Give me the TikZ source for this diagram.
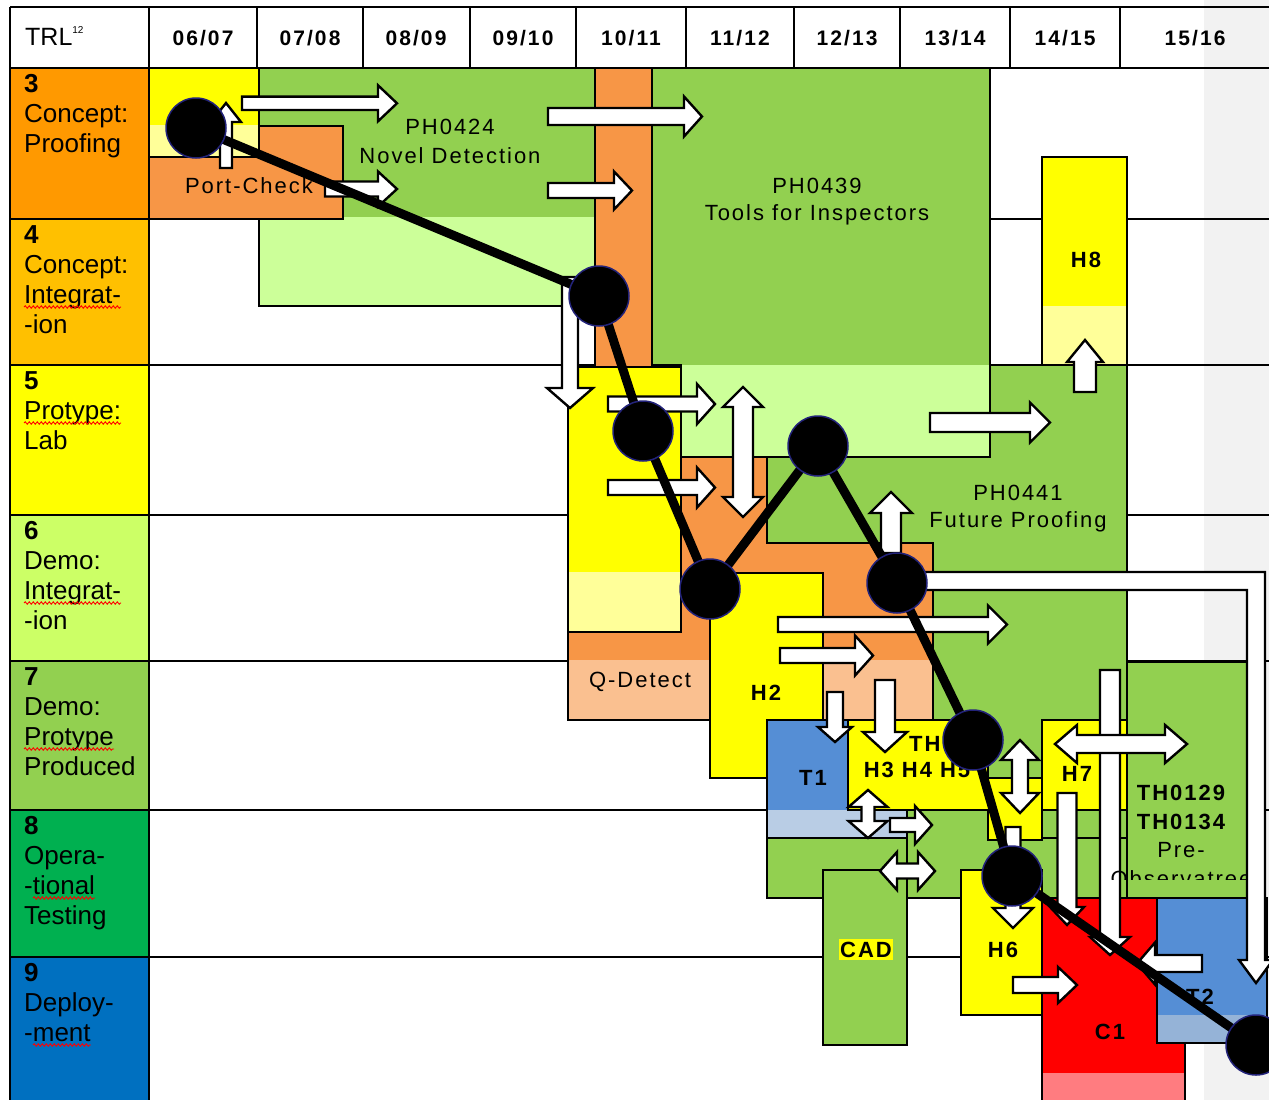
\documentclass[tikz,border=0pt]{standalone}
\usepackage{fontspec}
\setmainfont{Liberation Sans}
\newfontfamily\lsf[LetterSpace=9]{Liberation Sans}
\newfontfamily\yrf[LetterSpace=10]{Liberation Sans}
\usetikzlibrary{decorations.pathmorphing}
\definecolor{rThree}{HTML}{FF9900}
\definecolor{rFour}{HTML}{FFC000}
\definecolor{rFive}{HTML}{FFFF00}
\definecolor{rSix}{HTML}{CCFF66}
\definecolor{rSeven}{HTML}{92D050}
\definecolor{rEight}{HTML}{00B050}
\definecolor{rNine}{HTML}{0070C0}
\definecolor{gD}{HTML}{92D050}
\definecolor{gL}{HTML}{CCFF99}
\definecolor{orD}{HTML}{F79646}
\definecolor{orL}{HTML}{FAC090}
\definecolor{yD}{HTML}{FFFF00}
\definecolor{yL}{HTML}{FFFF99}
\definecolor{bD}{HTML}{558ED5}
\definecolor{bL}{HTML}{B9CDE5}
\definecolor{bLt}{HTML}{95B3D7}
\definecolor{rD}{HTML}{FF0000}
\definecolor{rL}{HTML}{FF7C80}
\definecolor{gStrip}{HTML}{F2F2F2}
\definecolor{navy}{HTML}{23237A}
\newcommand\sarr[7]{\draw[warr,shift={(#1,#2)},rotate=#3] (0,-#5) -- ({#4-#7},-#5) -- ({#4-#7},-#6) -- (#4,0) -- ({#4-#7},#6) -- ({#4-#7},#5) -- (0,#5) -- cycle;}
\newcommand\darr[7]{\draw[warr,shift={(#1,#2)},rotate=#3] (0,0) -- (#7,-#6) -- (#7,-#5) -- ({#4-#7},-#5) -- ({#4-#7},-#6) -- (#4,0) -- ({#4-#7},#6) -- ({#4-#7},#5) -- (#7,#5) -- (#7,#6) -- cycle;}
\tikzset{
 blk/.style={draw=black,line width=1.4pt},
 grid/.style={draw=black,line width=1.3pt},
 warr/.style={draw=black,fill=white,line width=2.4pt,line join=miter},
 lbl/.style={inner sep=0pt,anchor=base,font=\lsf\fontsize{22}{24}\selectfont},
 blbl/.style={inner sep=0pt,anchor=base,font=\lsf\bfseries\fontsize{22}{24}\selectfont},
 rowlbl/.style={inner sep=0pt,anchor=base west,font=\fontsize{26}{30}\selectfont},
 rownum/.style={inner sep=0pt,anchor=base west,font=\bfseries\fontsize{26}{30}\selectfont},
 yr/.style={inner sep=0pt,anchor=base,font=\yrf\bfseries\fontsize{21}{24}\selectfont},
 spell/.style={draw=red,line width=0.9pt,decorate,decoration={snake,amplitude=1.2pt,segment length=4pt}},
 dot/.style={circle,fill=black,draw=navy,line width=1.5pt,minimum size=60pt,inner sep=0pt},
 trail/.style={line width=9pt,draw=black},
}
\begin{document}
\begin{tikzpicture}[x=1pt,y=-1pt]
\useasboundingbox (0,0) rectangle (1269,1100);
\fill[white] (0,0) rectangle (1269,1100);
\fill[gStrip] (1204,0) rectangle (1269,1100);
% left column cells
\fill[rThree] (10,68) rectangle (149,219);
\fill[rFour] (10,219) rectangle (149,365);
\fill[rFive] (10,365) rectangle (149,515);
\fill[rSix] (10,515) rectangle (149,661);
\fill[rSeven] (10,661) rectangle (149,810);
\fill[rEight] (10,810) rectangle (149,957);
\fill[rNine] (10,957) rectangle (149,1100);
% grid
\draw[grid] (10,7) -- (1269,7);
\foreach \yy in {68,219,365,515,661,810,957} {\draw[grid] (10,\yy) -- (1269,\yy);}
\draw[grid] (10,7) -- (10,1100);
\draw[grid] (149,7) -- (149,1100);
\foreach \xx in {257,363,470,576,686,794,900,1010,1120} {\draw[grid] (\xx,7) -- (\xx,68);}
% header
\node[inner sep=0pt,anchor=base west,font=\fontsize{25}{28}\selectfont] (trl) at (25,45) {TRL\raisebox{11pt}{\fontsize{10}{10}\selectfont 12}};
\node[yr] (y1) at (203,45) {06/07};
\node[yr] (y2) at (310,45) {07/08};
\node[yr] (y3) at (416,45) {08/09};
\node[yr] (y4) at (523,45) {09/10};
\node[yr] (y5) at (631,45) {10/11};
\node[yr] (y6) at (740,45) {11/12};
\node[yr] (y7) at (847,45) {12/13};
\node[yr] (y8) at (955,45) {13/14};
\node[yr] (y9) at (1065,45) {14/15};
\node[yr] (y10) at (1195,45) {15/16};
% row labels
\node[rownum] (n3) at (24,92) {3};
\node[rowlbl] (l3b) at (24,122) {Concept:};
\node[rowlbl] (l3c) at (24,152) {Proofing};
\node[rownum] (n4) at (24,243) {4};
\node[rowlbl] (l4b) at (24,273) {Concept:};
\node[rowlbl] (l4c) at (24,303) {Integrat-};
\node[rowlbl] (l4d) at (24,333) {-ion};
\node[rownum] (n5) at (24,389) {5};
\node[rowlbl] (l5b) at (24,419) {Protype:};
\node[rowlbl] (l5c) at (24,449) {Lab};
\node[rownum] (n6) at (24,539) {6};
\node[rowlbl] (l6b) at (24,569) {Demo:};
\node[rowlbl] (l6c) at (24,599) {Integrat-};
\node[rowlbl] (l6d) at (24,629) {-ion};
\node[rownum] (n7) at (24,685) {7};
\node[rowlbl] (l7b) at (24,715) {Demo:};
\node[rowlbl] (l7c) at (24,745) {Protype};
\node[rowlbl] (l7d) at (24,775) {Produced};
\node[rownum] (n8) at (24,834) {8};
\node[rowlbl] (l8b) at (24,864) {Opera-};
\node[rowlbl] (l8c) at (24,894) {-tional};
\node[rowlbl] (l8d) at (24,924) {Testing};
\node[rownum] (n9) at (24,981) {9};
\node[rowlbl] (l9b) at (24,1011) {Deploy-};
\node[rowlbl] (l9c) at (24,1041) {-ment};
\draw[spell] ([yshift=-4pt]l4c.base west) -- ([yshift=-4pt]l4c.base east);
\draw[spell] ([yshift=-4pt]l5b.base west) -- ([yshift=-4pt]l5b.base east);
\draw[spell] ([yshift=-4pt]l6c.base west) -- ([yshift=-4pt]l6c.base east);
\draw[spell] ([yshift=-4pt]l7c.base west) -- ([yshift=-4pt]l7c.base east);
\draw[spell] ([xshift=9pt,yshift=-4pt]l8c.base west) -- ([yshift=-4pt]l8c.base east);
\draw[spell] ([xshift=9pt,yshift=-4pt]l9c.base west) -- ([yshift=-4pt]l9c.base east);
% PH0424
\fill[gD] (259,68) rectangle (595,217);
\fill[gL] (259,217) rectangle (595,306);
\draw[blk] (259,68) rectangle (595,306);
% yellow 06/07
\fill[yD] (149,68) rectangle (259,125);
\fill[yL] (149,125) rectangle (259,157);
\draw[blk] (149,68) rectangle (259,157);
% Port-Check
\filldraw[blk,fill=orD] (149,157) -- (259,157) -- (259,126) -- (343,126) -- (343,219) -- (149,219) -- cycle;
% PH0439
\fill[gD] (652,68) rectangle (990,365);
\fill[gL] (652,365) rectangle (990,457);
\draw[blk] (652,68) rectangle (990,457);
% PH0441
\filldraw[blk,fill=gD] (767,457) -- (990,457) -- (990,365) -- (1127,365) -- (1127,662) -- (1247,662) -- (1247,898) -- (767,898) -- cycle;
\draw[blk] (1127,662) -- (1127,898);
% Q-Detect
\fill[orD] (595,68) -- (652,68) -- (652,365) -- (681,365) -- (681,457) -- (767,457) -- (767,543) -- (933,543) -- (933,720) -- (568,720) -- (568,365) -- (595,365) -- cycle;
\fill[orL] (568,660) rectangle (933,720);
\draw[blk] (595,68) -- (652,68) -- (652,365) -- (681,365) -- (681,457) -- (767,457) -- (767,543) -- (933,543) -- (933,720) -- (568,720) -- (568,365) -- (595,365) -- cycle;
% yellow 10/11
\fill[yD] (568,367) rectangle (681,572);
\fill[yL] (568,572) rectangle (681,632);
\draw[blk] (568,367) rectangle (681,632);
% H8
\fill[yD] (1042,157) rectangle (1127,306);
\fill[yL] (1042,306) rectangle (1127,365);
\draw[blk] (1042,157) rectangle (1127,365);
% H2
\filldraw[blk,fill=yD] (710,573) rectangle (823,778);
% T1
\fill[bD] (767,720) rectangle (848,810);
\fill[bL] (767,810) rectangle (907,838);
\draw[blk] (767,720) -- (848,720) -- (848,810) -- (907,810) -- (907,838) -- (767,838) -- cycle;
\draw[blk] (907,838) -- (907,898);
% TH H3 H4 H5
\filldraw[blk,fill=yD] (848,720) -- (988,720) -- (988,778) -- (1042,778) -- (1042,840) -- (988,840) -- (988,810) -- (848,810) -- cycle;
% H7
\filldraw[blk,fill=yD] (1042,720) rectangle (1127,810);
\filldraw[blk,fill=gD] (1042,810) rectangle (1127,838);
% CAD, H6
\filldraw[blk,fill=gD] (823,870) rectangle (907,1045);
\filldraw[blk,fill=yD] (961,870) rectangle (1042,1015);
% C1
\fill[rD] (1042,898) rectangle (1185,1073);
\fill[rL] (1042,1073) rectangle (1185,1100);
\draw[blk] (1042,1100) -- (1042,898) -- (1185,898) -- (1185,1100);
% T2
\fill[bD] (1157,898) rectangle (1267,1015);
\fill[bLt] (1157,1015) rectangle (1267,1043);
\draw[blk] (1157,898) rectangle (1267,1043);
% arrows
\sarr{242}{103.3}{0}{155}{6.7}{18}{19}
\sarr{226}{168}{90}{65}{6}{15}{19}
\sarr{325}{189}{0}{72}{7.5}{17.5}{19}
\sarr{548}{116.5}{0}{154}{8.5}{20}{18}
\sarr{548}{190.5}{0}{84}{7.5}{19}{18}
\sarr{570}{277}{-90}{131}{8}{23}{20}
\sarr{608}{404}{0}{107}{7.5}{20}{18}
\darr{743}{387}{-90}{130}{10}{20}{20}
\sarr{608}{487.5}{0}{107}{7.5}{20}{18}
\sarr{930}{422.5}{0}{120}{9.5}{20}{20}
\sarr{1085}{392}{90}{52}{11}{18}{22}
\sarr{891}{553}{90}{61}{10}{21}{21}
\draw[warr] (925,572) -- (1265,572) -- (1265,960) -- (1273,960) -- (1256,983) -- (1239,960) -- (1247,960) -- (1247,590) -- (925,590) -- cycle;
\sarr{778}{624.5}{0}{229}{7.5}{19}{19}
\sarr{780}{655.5}{0}{93}{7.5}{20}{18}
\sarr{835}{692}{-90}{50}{8}{17}{15}
\sarr{885}{680}{-90}{72}{10}{22}{20}
\darr{868}{790}{-90}{48}{6.5}{19.5}{17}
\sarr{890}{825}{0}{42}{7}{19}{17}
\darr{880}{871}{0}{55}{7.5}{19}{17}
\darr{1020}{740}{-90}{73}{8}{19}{20}
\sarr{1013}{827}{-90}{101}{7.5}{20}{20}
\sarr{1110}{670}{-90}{285}{10}{20}{18}
\darr{1055}{744}{0}{132}{9}{19}{22}
\sarr{1067}{793}{-90}{132}{9.5}{17}{18}
\sarr{1202}{963.5}{180}{65}{8.5}{21}{18}
\sarr{1013}{985}{0}{64}{8}{18}{19}
% block labels
\node[lbl] (ph424a) at (450,134) {PH0424};
\node[lbl] (ph424b) at (450,163) {Novel Detection};
\node[lbl] (pc) at (249,193) {Port-Check};
\node[lbl] (ph439a) at (817,193) {PH0439};
\node[lbl] (ph439b) at (817,220) {Tools for Inspectors};
\node[blbl] (h8) at (1086,267) {H8};
\node[lbl] (ph441a) at (1018,500) {PH0441};
\node[lbl] (ph441b) at (1018,527) {Future Proofing};
\node[lbl] (qd) at (640,687) {Q-Detect};
\node[blbl] (h2) at (766,700) {H2};
\node[blbl] (t1) at (813,785) {T1};
\node[blbl,anchor=base west] (th) at (909,751) {TH0};
\node[blbl] (h345) at (917,777) {H3 H4 H5};
\node[blbl] (h7) at (1077,781) {H7};
\node[blbl] (th129) at (1181,800) {TH0129};
\node[blbl] (th134) at (1181,829) {TH0134};
\node[lbl] (pre) at (1181,857) {Pre-};
\begin{scope}
\clip (1100,835) rectangle (1247,879);
\node[lbl] (obs) at (1181,886) {Observatree};
\end{scope}
\node[blbl,fill=yD,inner xsep=1pt,inner ysep=3pt] (cad) at (866,957) {CAD};
\node[blbl] (h6) at (1003,957) {H6};
\node[blbl] (c1lbl) at (1110,1039) {C1};
\node[blbl] (t2) at (1200,1004) {T2};
% trail
\coordinate (p1) at (196,128);
\coordinate (p2) at (599,296);
\coordinate (p3) at (643,431);
\coordinate (p4) at (710,589);
\coordinate (p5) at (818,446);
\coordinate (p6) at (897,583);
\coordinate (p7) at (973,740);
\coordinate (p8) at (1012,876);
\coordinate (p9) at (1256,1045);
\draw[trail] (p1) -- (p2) -- (p3) -- (p4) -- (p5) -- (p6) -- (p7) -- (p8) -- (p9);
\foreach \i in {1,...,9} {\node[dot] (c\i) at (p\i) {};}
\end{tikzpicture}
\end{document}
